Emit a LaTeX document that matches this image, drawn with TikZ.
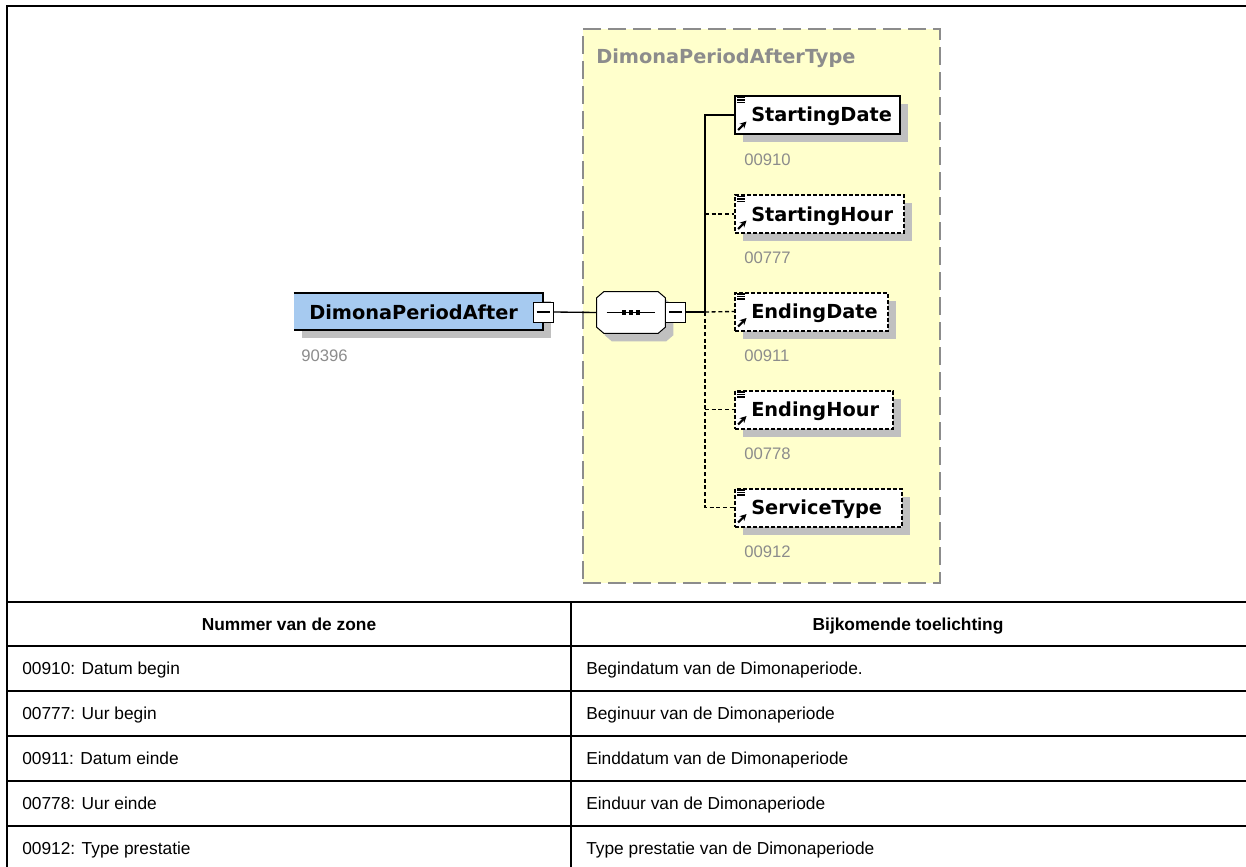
\documentclass[tikz,border=0pt]{standalone}
\usepackage{fontspec}
\setmainfont{Liberation Sans}
\newfontfamily\dvfont{DejaVu Sans}
\usetikzlibrary{shadows,arrows.meta}
\definecolor{rootblue}{HTML}{A6CAF0}
\definecolor{typeyellow}{HTML}{FFFFCC}
\definecolor{typeborder}{HTML}{8C8C8C}
\definecolor{shadowgray}{HTML}{C0C0C0}
\definecolor{labelgray}{HTML}{8C8C8C}
\tikzset{
  shadowed/.style={drop shadow={shadow xshift=6pt, shadow yshift=-6pt, fill=shadowgray, opacity=1}},
  elembox/.style={draw=black, line width=1.5pt, fill=white, shadowed, inner sep=0, minimum height=28.5pt},
  optbox/.style={elembox, dash pattern=on 3pt off 1.5pt},
  elemtext/.style={font=\dvfont\bfseries\fontsize{14.5}{16}\selectfont, anchor=base west, inner sep=0},
  typetitle/.style={elemtext, text=labelgray},
  idlabel/.style={font=\fontsize{12.5}{14}\selectfont, text=labelgray, anchor=base west, inner sep=0},
  minusbox/.style={draw=black, line width=0.75pt, fill=white, minimum size=15pt, inner sep=0},
  conn/.style={line width=1pt},
  optconn/.style={line width=1pt, dash pattern=on 3pt off 2pt},
  cellhead/.style={font=\bfseries\fontsize{13}{15}\selectfont, anchor=base, inner sep=0},
  celltext/.style={font=\fontsize{13}{15}\selectfont, anchor=base west, inner sep=0},
  tabline/.style={line width=1.5pt},
  elemicon/.pic={
    \draw[line width=0.8pt] (3,2.5) -- (11,2.5) (3,5) -- (11,5) (3,7.5) -- (11,7.5);
    \draw[line width=1.6pt, -{Stealth[length=5pt,width=5pt]}] (4,35) -- (12.5,26.5);
  }
}
\begin{document}
\begin{tikzpicture}[x=0.75pt,y=-0.75pt]
\useasboundingbox (0,0) rectangle (1246,867);
\clip (0,0) rectangle (1246,867);
\fill[white] (0,0) rectangle (1246,867);

% table frame
\draw[tabline] (7,875) -- (7,6) -- (1255,6);
\foreach \yy in {602,646,691,736,781,826} {\draw[tabline] (7,\yy) -- (1255,\yy);}
\draw[tabline] (571,602) -- (571,875);

% type box
\node[draw=typeborder, fill=typeyellow, dash pattern=on 13.5pt off 5.25pt, line width=1.5pt,
      minimum width=267.75pt, minimum height=415.5pt, inner sep=0] (typebox) at (761.5,306) {};
\node[typetitle] (typename) at (596,64) {DimonaPeriodAfterType};

% root element
\node[fill=rootblue, shadowed, minimum width=186.75pt, minimum height=27.75pt, inner sep=0] (root) at (418.5,311.5) {};
\draw[line width=1.5pt] (root.north west) -- (root.north east) -- (root.south east) -- (root.south west);
\node[elemtext] (roottext) at (309,319) {DimonaPeriodAfter};
\node[idlabel] (rootid) at (301,361) {90396};
\node[minusbox] (rootminus) at (543,312) {};
\draw[line width=0.9pt] ([xshift=3pt]rootminus.west) -- ([xshift=-3pt]rootminus.east);

% sequence compositor
\node[minimum width=51pt, minimum height=30.75pt, inner sep=0] (seq) at (631,312.5) {};
\filldraw[fill=white, line width=0.75pt, shadowed]
  ([xshift=5.25pt]seq.north west) -- ([xshift=-5.25pt]seq.north east) -- ([yshift=-4.5pt]seq.north east)
  -- ([yshift=4.5pt]seq.south east) -- ([xshift=-5.25pt]seq.south east) -- ([xshift=5.25pt]seq.south west)
  -- ([yshift=4.5pt]seq.south west) -- ([yshift=-4.5pt]seq.north west) -- cycle;
\draw[line width=0.75pt] ([xshift=7.5pt]seq.west) -- ([xshift=-7.5pt]seq.east);
\foreach \dx in {-5.25,0,5.25} {\fill ([xshift=\dx pt]seq.center) +(-1.6pt,-1.6pt) rectangle +(1.6pt,1.6pt);}
\node[minusbox] (seqminus) at (675.5,312) {};
\draw[line width=0.9pt] ([xshift=3pt]seqminus.west) -- ([xshift=-3pt]seqminus.east);
\draw[conn] (rootminus.east) -- (seq.west);

% children
\node[elembox, minimum width=123.75pt] (sd) at (817.5,115) {};
\node[optbox, minimum width=126.75pt] (sh) at (819.5,214) {};
\node[optbox, minimum width=114.75pt] (ed) at (811.5,311.5) {};
\node[optbox, minimum width=118.5pt] (eh) at (814,409.5) {};
\node[optbox, minimum width=125.25pt] (st) at (818.5,507.5) {};
\foreach \b/\t in {sd/StartingDate, sh/StartingHour, ed/EndingDate, eh/EndingHour, st/ServiceType} {
  \pic at (\b.north west) {elemicon};
  \node[elemtext] (\b text) at ([xshift=12.75pt,yshift=-5.25pt]\b.west) {\t};
}
\node[idlabel] (sdid) at (744,165) {00910};
\node[idlabel] (shid) at (744,263) {00777};
\node[idlabel] (edid) at (744,361) {00911};
\node[idlabel] (ehid) at (744,459) {00778};
\node[idlabel] (stid) at (744,557) {00912};

% connectors
\coordinate (bus) at (705,312);
\draw[conn] (seqminus.east) -- (bus) |- (sd.west);
\draw[optconn] (sh.west -| bus) -- (sh.west);
\draw[optconn] (bus) -- (ed.west);
\draw[optconn] (bus) |- (st.west);
\draw[optconn] (eh.west -| bus) -- (eh.west);

% table text
\node[cellhead] (h1) at (289,630) {Nummer van de zone};
\node[cellhead] (h2) at (908,630) {Bijkomende toelichting};
\node[celltext] (r1a) at (22,674.5) {00910: Datum begin};
\node[celltext] (r1b) at (586,674.5) {Begindatum van de Dimonaperiode.};
\node[celltext] (r2a) at (22,719.5) {00777: Uur begin};
\node[celltext] (r2b) at (586,719.5) {Beginuur van de Dimonaperiode};
\node[celltext] (r3a) at (22,764.5) {00911: Datum einde};
\node[celltext] (r3b) at (586,764.5) {Einddatum van de Dimonaperiode};
\node[celltext] (r4a) at (22,809.5) {00778: Uur einde};
\node[celltext] (r4b) at (586,809.5) {Einduur van de Dimonaperiode};
\node[celltext] (r5a) at (22,854.5) {00912: Type prestatie};
\node[celltext] (r5b) at (586,854.5) {Type prestatie van de Dimonaperiode};
\end{tikzpicture}
\end{document}
